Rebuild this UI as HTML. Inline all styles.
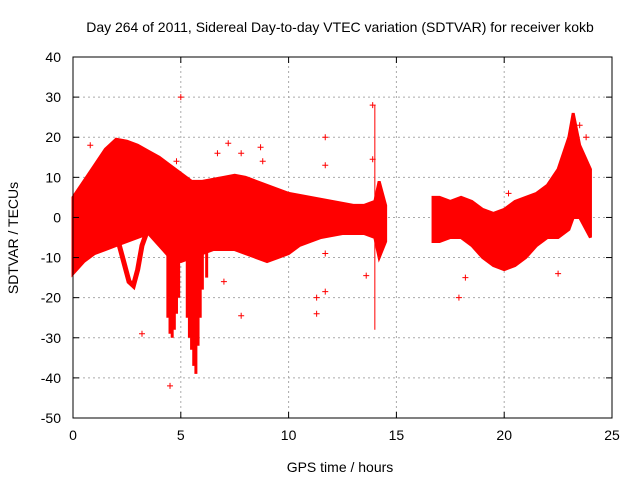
<!DOCTYPE html>
<html><head><meta charset="utf-8"><style>
body{margin:0;background:#fff}
svg{display:block;font-family:"Liberation Sans",sans-serif}
</style></head><body>
<svg id="c" width="640" height="480">
<text x="340" y="32" font-size="14" text-anchor="middle">Day 264 of 2011, Sidereal Day-to-day VTEC variation (SDTVAR) for receiver kokb</text>
<text x="340" y="472" font-size="14" text-anchor="middle">GPS time / hours</text>
<text x="18" y="238" font-size="14" text-anchor="middle" transform="rotate(-90 18 238)">SDTVAR / TECUs</text>
<g id="grid"></g><g id="data"></g><g id="axes"></g>
</svg>
<script>
const xTicks=[0,5,10,15,20,25];
const yTicks=[40,30,20,10,0,-10,-20,-30,-40,-50];
const bandT1=[0,0.5,1,1.5,2,2.5,3,3.5,4,4.5,5,5.5,6,6.5,7,7.5,8,8.5,9,9.5,10,10.5,11,11.5,12,12.5,13,13.5,14,14.2,14.5];
const bandUp1=[5,9,13,17,19.5,19,18,16.5,15,13,11,9,9,9.5,10,10.5,10,9,8,7,6,5.5,5,4.5,4,3.5,3,3,4,9,3];
const bandLo1=[-14,-11,-9,-8,-7,-6,-5,-4,-7,-10,-11,-10,-9,-8,-8,-8,-9,-10,-11,-10,-9,-7,-6,-5,-4.5,-4,-4,-4,-5,-10,-6];
const bandT2=[16.7,17,17.5,18,18.5,19,19.5,20,20.5,21,21.5,22,22.5,23,23.2,23.5,24];
const bandUp2=[5,5,4,5,4,2,1,2,4,5,6,8,12,20,26,18,12];
const bandLo2=[-6,-6,-5,-5,-7,-10,-12,-13,-12,-10,-7,-5,-5,-3,0,0,-5];
const lobeT=[2.0,2.3,2.6,2.8,3.0,3.2,3.4];
const lobeV=[-4,-10,-16,-17,-13,-7,-4];
const spikeT=[4.4,4.5,4.6,4.7,4.8,4.9,5.3,5.4,5.5,5.6,5.7,5.8,5.9,6.0,6.2,14.0,14.0];
const spikeV=[-25,-29,-30,-28,-24,-20,-25,-30,-33,-37,-39,-32,-25,-18,-15,-28,28];
const outT=[0.8,3.2,4.5,5.0,4.8,6.7,7.2,7.8,8.7,8.8,7.8,7.0,11.3,11.3,11.7,11.7,11.7,11.7,13.6,13.9,13.9,17.9,20.2,22.5,23.5,23.8,22.8,18.2];
const outV=[18,-29,-42,30,14,16,18.5,16,17.5,14,-24.5,-16,-24,-20,-18.5,20,13,-9,-14.5,28,14.5,-20,6,-14,23,20,10,-15];
const X0=73,X1=612,Y0=418,Y1=57;
const sx=v=>X0+(v-0)/25*(X1-X0);
const sy=v=>Y0-(v+50)/90*(Y0-Y1);
const NS="http://www.w3.org/2000/svg";
function mk(p,t,a){const e=document.createElementNS(NS,t);for(const k in a)e.setAttribute(k,a[k]);p.appendChild(e);return e;}
const grid=document.getElementById('grid'),data=document.getElementById('data'),axes=document.getElementById('axes');
xTicks.forEach(v=>{
 if(v>0&&v<25){const g=mk(grid,'line',{x1:sx(v),x2:sx(v),y1:Y0,y2:Y1,stroke:'#aaa','stroke-dasharray':'2,3'});
 }
 mk(axes,'line',{x1:sx(v),x2:sx(v),y1:Y0,y2:Y0-6,stroke:'#000'});
 mk(axes,'line',{x1:sx(v),x2:sx(v),y1:Y1,y2:Y1+6,stroke:'#000'});
 const t=mk(axes,'text',{x:sx(v),y:Y0+22,'font-size':14,'text-anchor':'middle'});t.textContent=v;
 
});
yTicks.forEach(v=>{
 if(v>-50&&v<40){const g=mk(grid,'line',{x1:X0,x2:X1,y1:sy(v),y2:sy(v),stroke:'#aaa','stroke-dasharray':'2,3'});
 }
 mk(axes,'line',{x1:X0,x2:X0+6,y1:sy(v),y2:sy(v),stroke:'#000'});
 mk(axes,'line',{x1:X1,x2:X1-6,y1:sy(v),y2:sy(v),stroke:'#000'});
 const t=mk(axes,'text',{x:X0-12,y:sy(v)+5,'font-size':14,'text-anchor':'end'});t.textContent=v;
 
});
const fr=mk(axes,'rect',{x:X0,y:Y1,width:X1-X0,height:Y0-Y1,fill:'none',stroke:'#000'});

function band(T,U,L,name){
 let pts=T.map((t,i)=>sx(t)+','+sy(U[i]));
 for(let i=T.length-1;i>=0;i--)pts.push(sx(T[i])+','+sy(L[i]));
 const p=mk(data,'polygon',{points:pts.join(' '),fill:'#f00',stroke:'#f00','stroke-width':3});
 
}
band(bandT1,bandUp1,bandLo1,'data-band-segment-1');
band(bandT2,bandUp2,bandLo2,'data-band-segment-2');
const lobe=mk(data,'polyline',{points:lobeT.map((t,i)=>sx(t)+','+sy(lobeV[i])).join(' '),fill:'none',stroke:'#f00','stroke-width':5});

spikeT.forEach((t,i)=>{
 const s=mk(data,'line',{x1:sx(t),x2:sx(t),y1:sy(0),y2:sy(spikeV[i]),stroke:'#f00','stroke-width':t===14?1:3});
 
});
outT.forEach((t,i)=>{
 const x=sx(t),y=sy(outV[i]);
 const p=mk(data,'path',{d:`M${x-3},${y}H${x+3}M${x},${y-3}V${y+3}`,stroke:'#f00','stroke-width':1});
 
});
</script>
</body></html>
